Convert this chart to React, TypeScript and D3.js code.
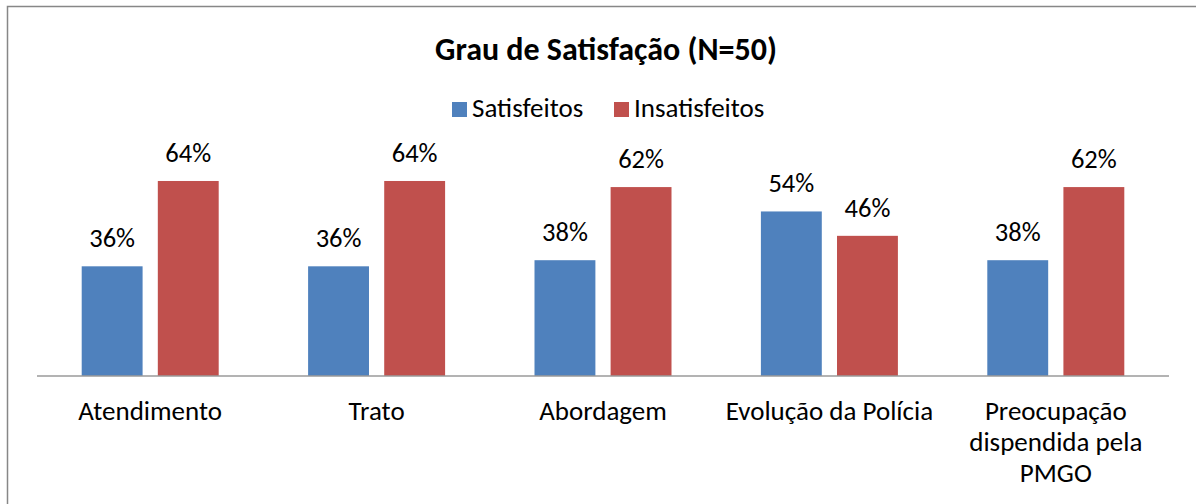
import React from 'react';
import * as d3 from 'd3';

// chart data
const categories = [
  'Atendimento',
  'Trato',
  'Abordagem',
  'Evolução da Polícia',
  'Preocupação\ndispendida pela\nPMGO',
];
const seriesNames = ['Satisfeitos', 'Insatisfeitos'];
const satisfeitos = [0.36, 0.36, 0.38, 0.54, 0.38];
const insatisfeitos = [0.64, 0.64, 0.62, 0.46, 0.62];
const colors = ['#4F81BD', '#C0504D'];

const width = 1196;
const height = 504;
const font = 'Carlito, Calibri, Lato, sans-serif';

const App = () => {
  const x = d3.scaleBand().domain(categories).range([37, 1169]);
  const bw = x.bandwidth();
  const xSub = d3.scaleBand()
    .domain(seriesNames)
    .range([bw / 2 - 68.5, bw / 2 + 68.5])
    .paddingInner(0.2);
  const y = d3.scaleLinear().domain([0, 0.7]).range([376, 162.7]);
  const fmt = d3.format('.0%');

  const series = [satisfeitos, insatisfeitos];

  return (
    <svg width={width} height={height} style={{ position: 'absolute', left: 0, top: 0 }}
      fontFamily={font}>
      <rect x={0} y={0} width={width} height={height} fill="#fff" />
      <rect x={7.5} y={6.5} width={width + 20} height={height + 20} fill="none"
        stroke="#878787" strokeWidth={1.5} />

      <text x={606} y={60} textAnchor="middle" fontSize={32} fontWeight="bold" fill="#000">
        Grau de Satisfação (N=50)
      </text>

      {/* legend */}
      <g>
        <rect x={452} y={102} width={15} height={15} fill={colors[0]} />
        <text x={472} y={117} fontSize={27} fill="#000">{seriesNames[0]}</text>
        <rect x={614} y={102} width={15} height={15} fill={colors[1]} />
        <text x={634} y={117} fontSize={27} fill="#000">{seriesNames[1]}</text>
      </g>

      {/* bars */}
      {categories.map((c, i) => (
        <g key={c} transform={`translate(${x(c)},0)`}>
          {seriesNames.map((s, j) => {
            const v = series[j][i];
            const bx = xSub(s)!;
            return (
              <g key={s}>
                <rect x={bx} y={y(v)} width={xSub.bandwidth()} height={y(0) - y(v)} fill={colors[j]} />
                <text x={bx + xSub.bandwidth() / 2} y={y(v) - 19} textAnchor="middle"
                  fontSize={26.5} fill="#000">{fmt(v)}</text>
              </g>
            );
          })}
          {c.split('\n').map((line, k) => (
            <text key={k} x={bw / 2} y={420 + k * 31} textAnchor="middle" fontSize={27} fill="#000">
              {line}
            </text>
          ))}
        </g>
      ))}

      <line x1={37} x2={1169} y1={376} y2={376} stroke="#9a9a9a" strokeWidth={1.5} />
    </svg>
  );
};

export default App;
